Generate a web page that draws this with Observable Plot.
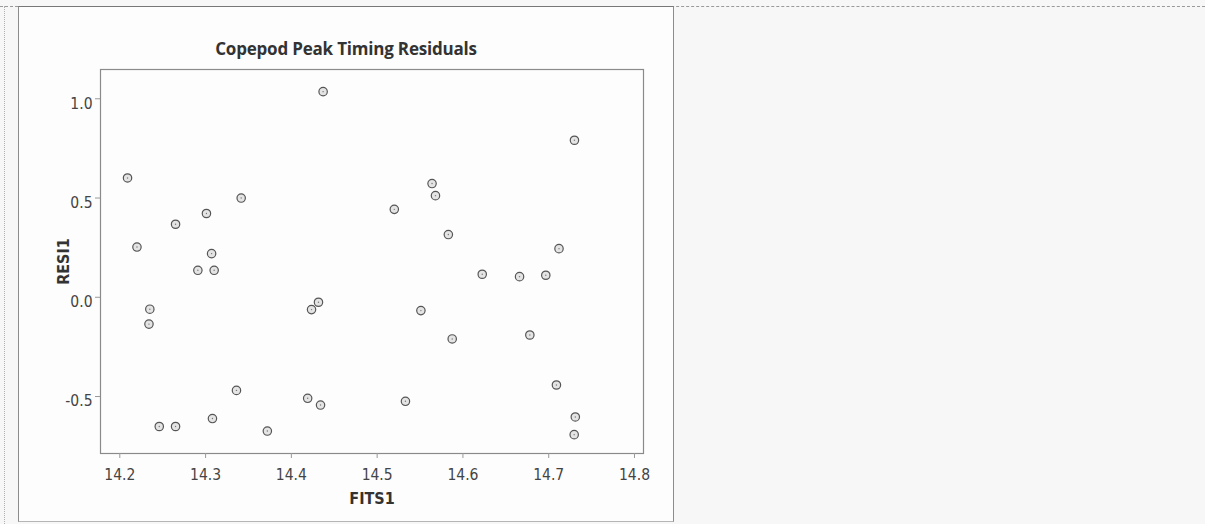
<!DOCTYPE html>
<html>
<head>
<meta charset="utf-8">
<script src="https://cdn.jsdelivr.net/npm/d3@7"></script>
<script src="https://cdn.jsdelivr.net/npm/@observablehq/plot@0.6"></script>
<style>
  html, body { margin: 0; padding: 0; background: #f7f7f8; }
  #wrap { position: relative; width: 1205px; height: 524px; overflow: hidden; }
  .topline { position: absolute; left: 0; top: 6px; width: 1205px; height: 0; border-top: 1px dashed #9a9a9a; }
  .leftdots { position: absolute; left: 4px; top: 6px; width: 0; height: 518px; border-left: 1px dotted #b0b0b0; }
  .panel { position: absolute; left: 18px; top: 6px; width: 654px; height: 514px; background: #fdfdfd;
           border-left: 1px solid #8c8c8c; border-right: 1px solid #8c8c8c; border-top: 1px solid #777; border-bottom: 1px solid #b5b5b5; }
  #chart { position: absolute; left: 0; top: 0; }
  #title { position: absolute; left: 18px; width: 656px; top: 40px; text-align: center;
           font-family: "Open Sans", sans-serif; font-weight: 700; font-size: 17px; color: #333; line-height: 18px;
           letter-spacing: -0.2px; }
</style>
</head>
<body>
<div id="wrap">
  <div class="topline"></div>
  <div class="leftdots"></div>
  <div class="panel"></div>
  <div id="chart"></div>
  <div id="title">Copepod Peak Timing Residuals</div>
</div>
<script>
// Fitted values (FITS1) and residuals (RESI1)
const fits1 = [
  14.437, 14.209, 14.3415, 14.301, 14.265, 14.220, 14.307, 14.291, 14.310, 14.235,
  14.234, 14.4316, 14.4235, 14.336, 14.419, 14.434, 14.308, 14.246, 14.265, 14.372,
  14.730, 14.564, 14.568, 14.520, 14.583, 14.712, 14.6225, 14.666, 14.6966, 14.551,
  14.5875, 14.678, 14.709, 14.533, 14.731, 14.7297
];
const resi1 = [
  1.036, 0.601, 0.500, 0.422, 0.368, 0.253, 0.220, 0.136, 0.136, -0.060,
  -0.135, -0.025, -0.062, -0.469, -0.509, -0.543, -0.611, -0.651, -0.651, -0.674,
  0.791, 0.573, 0.512, 0.443, 0.316, 0.245, 0.116, 0.104, 0.111, -0.067,
  -0.210, -0.190, -0.442, -0.524, -0.603, -0.692
];
const xTicks = [14.2, 14.3, 14.4, 14.5, 14.6, 14.7, 14.8];
const yTicks = [-0.5, 0.0, 0.5, 1.0];
const xLabel = "FITS1";
const yLabel = "RESI1";

const data = fits1.map((f, i) => ({fits: f, resi: resi1[i]}));
const narrow = "'Liberation Sans Narrow', 'DejaVu Sans Condensed', sans-serif";

const chart = Plot.plot({
  width: 680,
  height: 524,
  marginLeft: 100,
  marginRight: 37,
  marginTop: 69,
  marginBottom: 71,
  style: {background: "transparent", fontFamily: "DejaVu Sans, sans-serif", fontSize: "13px", color: "#444"},
  x: {domain: [14.1775, 14.8105]},
  y: {domain: [-0.787, 1.1475]},
  marks: [
    Plot.frame({stroke: "#8a8a8a", strokeWidth: 1.2}),
    Plot.axisX({ticks: xTicks, tickSize: 5, tickFormat: null, text: null, stroke: "#999", label: null}),
    Plot.axisX({ticks: xTicks, tickSize: 0, tickPadding: 15, tickFormat: d => d.toFixed(1),
                fill: "#444", label: null, fontSize: 15.5, fontFamily: narrow}),
    Plot.axisY({ticks: yTicks, tickSize: 5, tickFormat: null, text: null,
                stroke: "#999", label: null}),
    Plot.axisY({ticks: yTicks, tickSize: 0, tickPadding: 8, tickFormat: d => d.toFixed(1),
                fill: "#444", label: null, fontSize: 15.5, fontFamily: narrow, dy: 5}),
    Plot.text([xLabel], {frameAnchor: "bottom", dy: 45, text: d => d, fontWeight: "bold",
                fontSize: 16, fontFamily: narrow, fill: "#333", lineAnchor: "middle"}),
    Plot.text([yLabel], {frameAnchor: "left", dx: -37, rotate: -90, text: d => d, fontWeight: "bold",
                fontSize: 16, fontFamily: narrow, fill: "#333", lineAnchor: "middle", textAnchor: "middle"}),
    Plot.dot(data, {x: "fits", y: "resi", r: 4.2, stroke: "#555", strokeWidth: 1.2, fill: "#e4e4e4"}),
    Plot.dot(data, {x: "fits", y: "resi", r: 0.7, fill: "#777", stroke: null})
  ]
});
document.getElementById("chart").appendChild(chart);
</script>
</body>
</html>
